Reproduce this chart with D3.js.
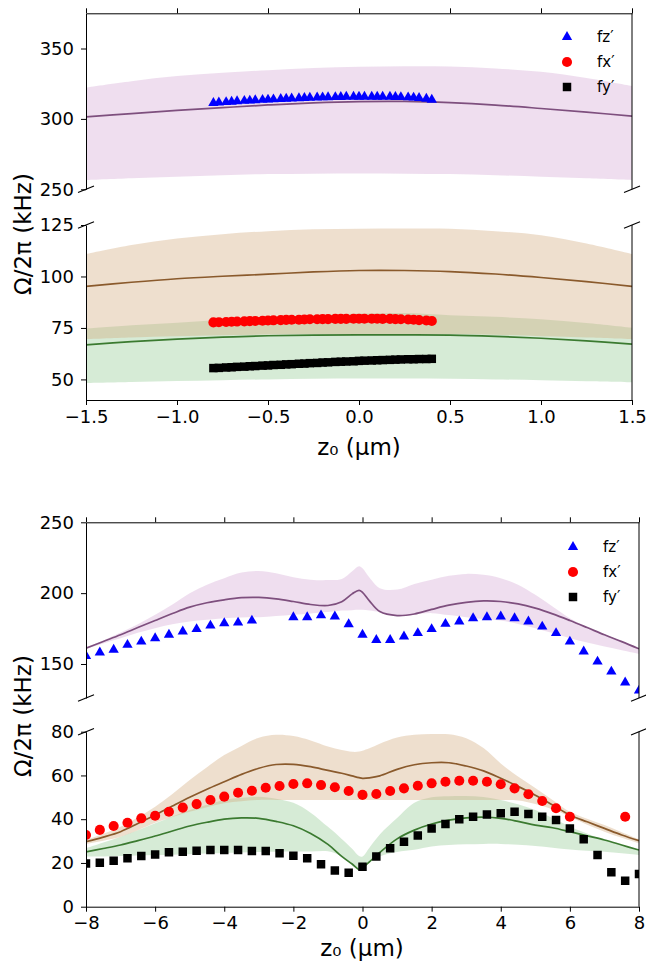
<!DOCTYPE html>
<html>
<head>
<meta charset="utf-8">
<script src="https://cdn.jsdelivr.net/npm/d3@7"></script>
<style>
  body { margin: 0; background: #fff; }
  text { font-family: "DejaVu Sans", sans-serif; fill: #000; }
</style>
</head>
<body>
<svg id="chart" width="646" height="963"></svg>
<script>
/// Data ///
// top figure: measured points
const zTop = [-0.80,-0.77,-0.73,-0.70,-0.67,-0.63,-0.60,-0.57,-0.53,-0.50,-0.47,-0.43,-0.40,-0.37,-0.33,-0.30,-0.27,-0.23,-0.20,-0.17,-0.13,-0.10,-0.07,-0.03,0.00,0.03,0.07,0.10,0.13,0.17,0.20,0.23,0.27,0.30,0.33,0.37,0.40];
const fzTop = [311.3,311.6,311.9,312.2,312.5,312.8,313.0,313.3,313.5,313.7,313.9,314.1,314.3,314.5,314.7,314.9,315.0,315.2,315.3,315.4,315.5,315.6,315.7,315.7,315.8,315.8,315.8,315.8,315.7,315.7,315.6,315.5,315.3,315.1,314.8,314.3,313.6];
const fxTop = [77.7,77.8,77.9,78.0,78.1,78.2,78.3,78.4,78.5,78.6,78.7,78.8,78.9,79.0,79.0,79.1,79.2,79.2,79.3,79.3,79.4,79.4,79.4,79.5,79.5,79.5,79.5,79.5,79.4,79.4,79.3,79.2,79.1,79.0,78.8,78.6,78.4];
const fyTop = [55.5,55.6,55.8,55.9,56.1,56.2,56.4,56.5,56.7,56.8,57.0,57.1,57.3,57.4,57.6,57.7,57.9,58.0,58.2,58.3,58.5,58.6,58.7,58.8,59.0,59.1,59.2,59.3,59.4,59.5,59.6,59.7,59.8,59.8,59.9,59.9,60.0];

// top figure: theory curves and bands
const zThTop = [-1.5,-1.25,-1,-0.75,-0.5,-0.25,0,0.25,0.5,0.75,1,1.25,1.5];
const purpleLineTop = [301.5,303.8,306.0,308.0,309.9,311.4,312.3,312.4,311.5,309.8,307.4,304.8,302.0];
const purpleHiTop = [322.3,326.8,330.4,332.8,334.6,336.2,337.0,337.4,337.2,335.8,333.4,329.0,323.3];
const purpleLoTop = [256.5,257.8,258.9,260.0,260.8,261.1,261.2,261.1,260.8,260.0,258.9,257.8,256.5];
const brownLineTop = [95.2,97.2,98.9,100.1,101.1,102.2,102.9,102.9,102.4,101.2,99.5,97.5,95.2];
const brownHiTop = [110.9,115.3,118.4,120.5,122.0,122.9,123.2,123.3,123.2,122.0,120.0,116.0,110.9];
const brownLoTop = [69.6,70.4,71.0,71.5,71.8,72.0,72.0,72.0,72.0,71.7,71.0,70.4,69.6];
const greenLineTop = [66.8,68.4,69.6,70.5,71.2,71.5,71.6,71.6,71.5,70.9,70.0,68.7,67.1];
const greenHiTop = [74.7,76.3,77.5,79.0,80.0,81.2,82.0,82.2,81.2,80.4,79.2,77.4,75.1];
const greenLoTop = [48.3,48.8,49.2,49.6,50.0,50.3,50.4,50.4,50.3,50.0,49.6,49.1,48.6];

// bottom figure: measured points
const zBot = [-8,-7.6,-7.2,-6.8,-6.4,-6,-5.6,-5.2,-4.8,-4.4,-4,-3.6,-3.2,-2.8,-2.4,-2,-1.6,-1.2,-0.8,-0.4,0,0.4,0.8,1.2,1.6,2,2.4,2.8,3.2,3.6,4,4.4,4.8,5.2,5.6,6,6.4,6.8,7.2,7.6,8];
const fzBot = [155.7,158.1,160.0,163.5,165.8,168.2,170.6,172.9,174.6,177.1,178.8,179.2,180.6,null,null,183.0,183.0,184.3,183.5,178.1,170.6,167.0,167.0,169.4,171.8,174.6,178.3,180.0,182.3,183.0,183.5,182.3,180.0,176.4,171.8,165.8,158.8,151.7,144.6,136.9,131.2];
const fxBot = [32.8,35.1,36.9,38.4,40.4,41.6,43.4,45.3,46.9,48.8,50.3,52.1,53.0,54.4,55.2,56.1,56.4,55.6,54.6,52.9,51.1,51.5,52.9,54.1,55.3,56.4,57.1,57.6,57.6,57.1,56.0,54.1,51.4,48.3,45.0,41.1,null,null,null,41.1,null];
const fyBot = [19.8,20.1,21.0,22.1,23.2,23.9,24.9,25.1,25.6,25.9,25.9,25.9,25.5,25.5,24.4,23.3,22.1,19.4,16.5,15.5,18.3,22.9,26.7,29.7,32.5,35.8,37.8,40.0,41.1,42.2,42.7,43.4,42.4,41.1,39.6,35.8,30.8,23.6,15.7,11.9,14.9];

// bottom figure: theory curves and bands
const zThBot = [-8,-7.5,-7,-6.5,-6,-5.5,-5,-4.5,-4,-3.5,-3,-2.5,-2,-1.5,-1,-0.6,-0.3,-0.1,0,0.2,0.5,1,1.5,2,2.5,3,3.5,4,4.5,5,5.5,6,6.5,7,7.5,8];
const purpleLineBot = [161.2,165.9,170.6,175.7,180.7,185.6,190.1,193.2,195.3,196.8,197.0,196.0,194.1,192.0,191.3,194.0,199.5,202.0,200.5,194.5,187.0,184.2,185.3,188.5,191.5,193.5,194.5,194.1,192.4,189.4,185.4,180.7,175.7,170.6,165.8,160.7];
const purpleHiBot = [161.5,166.5,172.2,178.0,184.7,192.0,200.0,206.0,210.6,214.5,215.7,214.1,211.3,209.5,209.2,210.0,215.5,219.0,217.5,211.0,203.5,202.5,206.5,209.4,212.2,213.6,212.9,210.6,205.9,198.8,190.6,182.3,176.0,171.0,166.2,161.0];
const purpleLoBot = [160.5,164.5,168.2,172.0,175.3,178.0,180.0,181.3,182.3,182.8,183.0,183.8,184.7,185.7,186.7,187.7,188.0,188.2,188.2,187.8,186.7,183.9,185.0,185.9,184.5,183.0,181.8,180.7,178.3,175.3,171.8,168.2,165.2,162.3,159.7,157.1];
const brownLineBot = [29.7,31.8,34.3,38.0,41.9,46.0,50.0,53.7,57.1,60.5,63.3,65.0,65.1,64.0,62.3,61.0,59.8,59.0,58.7,58.9,59.8,62.8,64.9,65.8,65.8,64.3,62.1,58.7,55.0,51.0,46.5,41.9,38.8,35.8,32.8,30.2];
const brownHiBot = [30.5,33.3,36.6,40.8,45.7,51.5,57.9,63.8,69.3,73.5,77.2,78.6,78.0,76.0,73.2,71.6,70.8,70.9,71.3,72.4,74.5,77.3,78.6,78.9,78.8,77.0,72.5,65.5,59.5,54.3,48.8,43.4,40.2,37.3,34.0,30.8];
const brownLoBot = [28.7,30.2,32.0,35.0,38.4,41.0,43.4,45.5,47.3,48.2,48.8,48.8,48.8,48.8,48.8,48.8,48.8,48.8,48.8,48.8,48.8,48.8,48.8,48.8,48.8,48.8,48.8,48.8,48.6,47.0,44.5,41.1,37.5,34.3,31.5,29.0];
const greenLineBot = [25.1,26.6,28.2,30.2,32.3,34.6,36.9,38.6,40.0,40.6,40.4,39.0,37.0,33.5,28.5,23.0,19.5,17.0,17.8,20.5,24.8,31.0,35.0,37.8,39.6,40.6,40.9,40.4,39.0,37.3,36.1,34.3,32.4,30.5,28.2,25.9];
const greenHiBot = [26.7,29.3,32.0,35.0,38.1,41.2,44.2,46.6,48.8,49.8,50.3,49.4,47.5,43.0,36.5,31.0,26.5,23.2,23.0,27.0,33.0,40.5,47.5,50.0,50.5,50.6,50.2,48.8,46.8,44.2,40.5,36.6,33.5,30.5,28.2,26.0];
const greenLoBot = [22.9,23.0,23.2,23.4,23.6,23.8,24.0,24.3,24.5,24.8,25.0,25.1,25.2,25.2,25.3,23.0,19.5,16.9,17.6,20.3,23.0,25.0,26.0,27.5,28.2,28.5,28.7,28.7,28.3,27.7,27.0,26.2,25.6,25.1,24.4,23.6];

// ticks and labels
const xTicksTop = [-1.5,-1.0,-0.5,0.0,0.5,1.0,1.5];
const xTicksBot = [-8,-6,-4,-2,0,2,4,6,8];
const legendLabels = ["fz\u2032", "fx\u2032", "fy\u2032"];

/// Styles ///
const bandFill = { purple: "rgba(128,0,128,0.13)", brown: "rgba(209,172,126,0.38)", green: "rgba(0,128,0,0.16)" };
const lineCol = { purple: "#7e4f7e", brown: "#8a5a2c", green: "#3b7a30" };
const markTri = { type: d3.symbolTriangle, size: 46, color: "#0000ff" };
const markCirc = { type: d3.symbolCircle, size: 80, color: "#ff0000" };
const markSq = { type: d3.symbolSquare, size: 72, color: "#000000" };
const curve = d3.curveCatmullRom.alpha(0.5);

const svg = d3.select("#chart");
let clipN = 0;

function drawPanel(p) {
    const x = p.x;
    const y = d3.scaleLinear().domain(p.yDomain).range(p.yRange);
    const [x0, x1] = x.range();
    const [yb, yt] = p.yRange;
    const id = "clip" + (clipN++);
    svg.append("clipPath").attr("id", id).append("rect")
        .attr("x", x0).attr("y", yt).attr("width", x1 - x0).attr("height", yb - yt);
    const plot = svg.append("g").attr("clip-path", "url(#" + id + ")");

    // bands
    p.bands.forEach(function(b) {
        const area = d3.area()
            .x(d => x(d[0])).y0(d => y(d[1])).y1(d => y(d[2]))
            .curve(curve);
        plot.append("path").datum(d3.zip(p.zTh, b.lo, b.hi))
            .attr("d", area).attr("fill", bandFill[b.c]).attr("stroke", "none");
    });
    // theory lines
    p.lines.forEach(function(l) {
        const line = d3.line().x(d => x(d[0])).y(d => y(d[1])).curve(curve);
        plot.append("path").datum(d3.zip(p.zTh, l.v))
            .attr("d", line).attr("fill", "none")
            .attr("stroke", lineCol[l.c]).attr("stroke-width", 1.7);
    });
    // measured markers
    p.marks.forEach(function(m) {
        const pts = d3.zip(p.z, m.v).filter(d => d[1] != null);
        plot.selectAll(null).data(pts).enter().append("path")
            .attr("d", d3.symbol().type(m.s.type).size(m.s.size))
            .attr("transform", d => "translate(" + x(d[0]) + "," + y(d[1]) + ")")
            .attr("fill", m.s.color);
    });

    // axes
    svg.append("g").attr("transform", "translate(" + x0 + ",0)")
        .call(d3.axisLeft(y).tickValues(p.yTicks).tickSize(5).tickPadding(7).tickSizeOuter(0))
        .call(g => g.selectAll("text").style("font-size", "18px").attr("fill", "#000"))
        .call(g => g.selectAll("path,line").attr("stroke", "#000"));
    svg.append("line").attr("x1", x1).attr("x2", x1).attr("y1", yt).attr("y2", yb)
        .attr("stroke", "#000");

    let breakY;
    if (p.upper) {
        svg.append("g").attr("transform", "translate(0," + yt + ")")
            .call(d3.axisTop(x).tickValues(p.xTicks).tickFormat("").tickSize(5).tickSizeOuter(0))
            .call(g => g.selectAll("path,line").attr("stroke", "#000"));
        breakY = yb;
    } else {
        svg.append("g").attr("transform", "translate(0," + yb + ")")
            .call(d3.axisBottom(x).tickValues(p.xTicks).tickFormat(p.fmt).tickSize(5).tickPadding(5).tickSizeOuter(0))
            .call(g => g.selectAll("text").style("font-size", "18px").attr("fill", "#000"))
            .call(g => g.selectAll("path,line").attr("stroke", "#000"));
        breakY = yt;
    }
    // break marks
    [x0, x1].forEach(function(bx) {
        svg.append("line")
            .attr("x1", bx - 8).attr("y1", breakY + 3.3)
            .attr("x2", bx + 8).attr("y2", breakY - 3.3)
            .attr("stroke", "#000").attr("stroke-width", 1.1);
    });
}

function drawLegend(lx, ly) {
    const g = svg.append("g");
    [markTri, markCirc, markSq].forEach(function(s, i) {
        g.append("path").attr("d", d3.symbol().type(s.type).size(s.size))
            .attr("transform", "translate(" + lx + "," + (ly + i * 25) + ")")
            .attr("fill", s.color);
        g.append("text").attr("x", lx + 30).attr("y", ly + i * 25 + 5)
            .style("font-size", "15px").text(legendLabels[i]);
    });
}

function drawLabels(cx, xlabY, ylabY) {
    svg.append("text").attr("x", cx).attr("y", xlabY).attr("text-anchor", "middle")
        .style("font-size", "23px").text("z\u2080 (\u03bcm)");
    svg.append("text").attr("transform", "translate(31," + ylabY + ") rotate(-90)")
        .attr("text-anchor", "middle").style("font-size", "23px").text("\u03a9/2\u03c0 (kHz)");
}

/// Top figure ///
const xTop = d3.scaleLinear().domain([-1.5, 1.5]).range([86, 632]);
drawPanel({
    x: xTop, yDomain: [250, 375], yRange: [189.3, 13.3], yTicks: [250, 300, 350],
    xTicks: xTicksTop, upper: true, z: zTop, zTh: zThTop,
    bands: [{ c: "purple", lo: purpleLoTop, hi: purpleHiTop }],
    lines: [{ c: "purple", v: purpleLineTop }],
    marks: [{ s: markTri, v: fzTop }]
});
drawPanel({
    x: xTop, yDomain: [40, 125], yRange: [400, 225], yTicks: [50, 75, 100, 125],
    xTicks: xTicksTop, upper: false, fmt: d3.format(".1f"), z: zTop, zTh: zThTop,
    bands: [{ c: "green", lo: greenLoTop, hi: greenHiTop }, { c: "brown", lo: brownLoTop, hi: brownHiTop }],
    lines: [{ c: "brown", v: brownLineTop }, { c: "green", v: greenLineTop }],
    marks: [{ s: markCirc, v: fxTop }, { s: markSq, v: fyTop }]
});
drawLegend(567, 37);
drawLabels(359, 455, 234);

/// Bottom figure ///
const xBot = d3.scaleLinear().domain([-8, 8]).range([86, 639]);
drawPanel({
    x: xBot, yDomain: [126, 250], yRange: [698, 522.3], yTicks: [150, 200, 250],
    xTicks: xTicksBot, upper: true, z: zBot, zTh: zThBot,
    bands: [{ c: "purple", lo: purpleLoBot, hi: purpleHiBot }],
    lines: [{ c: "purple", v: purpleLineBot }],
    marks: [{ s: markTri, v: fzBot }]
});
drawPanel({
    x: xBot, yDomain: [0, 80], yRange: [906.7, 731.7], yTicks: [0, 20, 40, 60, 80],
    xTicks: xTicksBot, upper: false, fmt: d3.format("d"), z: zBot, zTh: zThBot,
    bands: [{ c: "green", lo: greenLoBot, hi: greenHiBot }, { c: "brown", lo: brownLoBot, hi: brownHiBot }],
    lines: [{ c: "brown", v: brownLineBot }, { c: "green", v: greenLineBot }],
    marks: [{ s: markCirc, v: fxBot }, { s: markSq, v: fyBot }]
});
drawLegend(573, 547);
drawLabels(362, 956, 716);
</script>
</body>
</html>
